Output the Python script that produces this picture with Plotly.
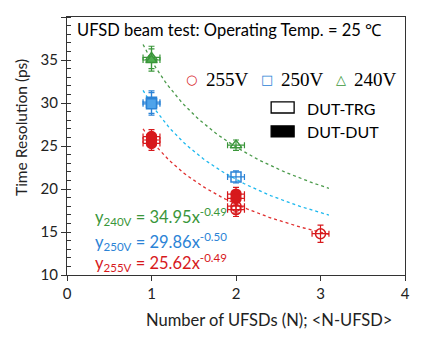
import numpy as np
import plotly.graph_objects as go

# measured points: open = DUT-TRG, filled = DUT-DUT
x_255_open = [2, 2, 3]
y_255_open = [18.0, 17.6, 14.8]
e_255_open = [0.8, 0.8, 1.0]
x_255_fill = [1, 1, 1, 2, 2]
y_255_fill = [26.1, 25.7, 25.3, 19.4, 18.9]
e_255_fill = [0.8, 0.8, 0.8, 0.8, 0.8]

x_250_open = [1, 2]
y_250_open = [30.1, 21.4]
e_250_open = [1.3, 0.7]
x_250_fill = [1]
y_250_fill = [29.9]
e_250_fill = [1.3]

x_240_open = [1, 2]
y_240_open = [35.3, 25.1]
e_240_open = [1.3, 0.6]
x_240_fill = [1]
y_240_fill = [35.0]
e_240_fill = [1.3]

x_err = 0.1

# power-law fits y = a * x^b
fit_labels = ["255V", "250V", "240V"]
fit_a = [25.62, 29.86, 34.95]
fit_b = [-0.49, -0.50, -0.49]

red = "#d7191c"
blue = "#2b83d6"
green = "#3a963a"
fit_cols = ["#e03030", "#1cb8ee", "#4a9a4a"]
mark_cols = [red, blue, green]
fill_cols = [red, "#4fa3ea", "#4fae4f"]

fig = go.Figure()

xf = np.linspace(0.9, 3.1, 60)
for a, b, c in zip(fit_a, fit_b, fit_cols):
    fig.add_trace(go.Scatter(x=xf, y=a * xf ** b, mode="lines",
                             line=dict(color=c, width=1.3, dash="dot"),
                             hoverinfo="skip"))

def pts(x, y, e, col, fill, sym, filled):
    fig.add_trace(go.Scatter(
        x=x, y=y, mode="markers",
        marker=dict(symbol=sym if filled else sym + "-open", size=10,
                    color=fill if filled else col, line=dict(color=col, width=1.5)),
        error_y=dict(type="data", array=e, color=col, thickness=1.2, width=3),
        error_x=dict(type="constant", value=x_err, color=col, thickness=1.2, width=3),
    ))

pts(x_255_open, y_255_open, e_255_open, red, fill_cols[0], "circle", False)
pts(x_255_fill, y_255_fill, e_255_fill, red, fill_cols[0], "circle", True)
pts(x_250_open, y_250_open, e_250_open, blue, fill_cols[1], "square", False)
pts(x_250_fill, y_250_fill, e_250_fill, blue, fill_cols[1], "square", True)
pts(x_240_open, y_240_open, e_240_open, green, fill_cols[2], "triangle-up", False)
pts(x_240_fill, y_240_fill, e_240_fill, green, fill_cols[2], "triangle-up", True)

font = "Lato, Open Sans, sans-serif"
serif = "Liberation Serif, serif"
ann = []
ann.append(dict(x=0.024, y=0.95, xref="paper", yref="paper", xanchor="left", yanchor="middle",
                text="UFSD beam test: Operating Temp. = 25 \u2103", showarrow=False,
                font=dict(family=font, size=16.5, color="black")))

# voltage legend
leg_y = 0.756
for xs, xt, sym, col, lab in [(0.367, 0.406, "\u25cb", red, "255V"),
                              (0.592, 0.628, "\u25a1", blue, "250V"),
                              (0.811, 0.844, "\u25b3", green, "240V")]:
    ann.append(dict(x=xs, y=leg_y, xref="paper", yref="paper", xanchor="center", yanchor="middle",
                    text=sym, showarrow=False, font=dict(family="DejaVu Sans", size=13, color=col)))
    ann.append(dict(x=xt, y=leg_y, xref="paper", yref="paper", xanchor="left", yanchor="middle",
                    text=lab, showarrow=False, font=dict(family=serif, size=19, color="black")))

ann.append(dict(x=0.704, y=0.647, xref="paper", yref="paper", xanchor="left", yanchor="middle",
                text="DUT-TRG", showarrow=False, font=dict(family=font, size=16, color="black")))
ann.append(dict(x=0.704, y=0.558, xref="paper", yref="paper", xanchor="left", yanchor="middle",
                text="DUT-DUT", showarrow=False, font=dict(family=font, size=16, color="black")))

shapes = [
    dict(type="rect", xref="paper", yref="paper", x0=0.604, x1=0.672, y0=0.628, y1=0.671,
         line=dict(color="black", width=1.3), fillcolor="white"),
    dict(type="rect", xref="paper", yref="paper", x0=0.604, x1=0.672, y0=0.535, y1=0.578,
         line=dict(color="black", width=1.3), fillcolor="black"),
]

# fit equations
eq_y = [0.05, 0.128, 0.225]
for lab, a, b, c, yy in zip(fit_labels, fit_a, fit_b, mark_cols, eq_y):
    ann.append(dict(x=0.077, y=yy, xref="paper", yref="paper", xanchor="left", yanchor="middle",
                    text=f"y<sub>{lab}</sub> = {a:.2f}x<sup>{b:.2f}</sup>", showarrow=False,
                    font=dict(family=font, size=16.5, color=c)))

# axis titles
ann.append(dict(x=-0.136, y=0.57, xref="paper", yref="paper", xanchor="center", yanchor="middle",
                text="Time Resolution (ps)", textangle=-90, showarrow=False,
                font=dict(family=font, size=15.5, color="#222")))
ann.append(dict(x=0.598, y=-0.174, xref="paper", yref="paper", xanchor="center", yanchor="middle",
                text="Number of UFSDs (N); &lt;N-UFSD&gt;", showarrow=False,
                font=dict(family=font, size=16.5, color="#222")))

# page body adds an 8px offset, so the figure is drawn 8px smaller
fig.update_layout(
    width=416, height=333,
    margin=dict(l=59, r=19, t=9, b=66),
    plot_bgcolor="white", paper_bgcolor="white",
    showlegend=False,
    annotations=ann, shapes=shapes,
    font=dict(family=font, size=15, color="#222"),
)
fig.update_xaxes(range=[0, 4], dtick=1, showgrid=False, zeroline=False, automargin=False,
                 showline=True, linecolor="#333", linewidth=1.2, mirror=True,
                 ticks="outside", ticklen=5, tickcolor="#333")
fig.update_yaxes(range=[10, 40], dtick=5, showgrid=False, zeroline=False, automargin=False,
                 showline=True, linecolor="#333", linewidth=1.2, mirror=True,
                 ticks="outside", ticklen=5, tickcolor="#333",
                 minor=dict(dtick=1, ticks="inside", ticklen=4, tickcolor="#333"))

fig.write_html("out.html")
